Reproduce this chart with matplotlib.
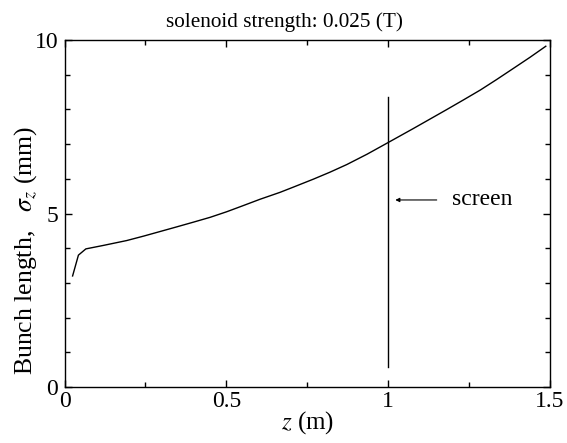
import matplotlib
matplotlib.use("Agg")
import matplotlib.pyplot as plt
from matplotlib.ticker import MultipleLocator

plt.rcParams["font.family"] = ["Liberation Serif", "DejaVu Serif"]
plt.rcParams["mathtext.fontset"] = "stix"

# bunch length along the beamline
z_m = [0.025, 0.043, 0.066, 0.12, 0.192, 0.245, 0.295, 0.345, 0.398, 0.45,
       0.501, 0.55, 0.604, 0.666, 0.707, 0.769, 0.82, 0.872, 0.935, 0.997,
       1.078, 1.129, 1.18, 1.232, 1.285, 1.335, 1.385, 1.438, 1.487]
sigma_mm = [3.20, 3.80, 3.98, 4.08, 4.22, 4.35, 4.48, 4.61, 4.75, 4.89,
            5.05, 5.22, 5.41, 5.61, 5.76, 5.99, 6.19, 6.41, 6.71, 7.03,
            7.45, 7.72, 7.99, 8.27, 8.56, 8.86, 9.17, 9.50, 9.82]

screen_z = 1.0
screen_span = [0.59, 8.36]
arrow_tail = (1.150, 5.39)
arrow_head = (1.022, 5.39)
label_z = 1.196

fig = plt.figure(figsize=(5.67, 4.43), dpi=100)
ax = fig.add_axes([64.5 / 567, 1 - 387 / 443, 485.5 / 567, 347 / 443])

ax.plot(z_m, sigma_mm, color="black", lw=1.0)
ax.plot([screen_z, screen_z], screen_span, color="black", lw=1.0)
ax.annotate("", xy=arrow_head, xytext=arrow_tail,
            arrowprops=dict(arrowstyle="-|>", color="black", lw=0.8,
                            mutation_scale=6, shrinkA=0, shrinkB=0))
ax.text(label_z, arrow_tail[1], "screen", fontsize=17, va="center", ha="left")

ax.set_xlim(0, 1.5)
ax.set_ylim(0, 10)
ax.set_xticks([0, 0.5, 1, 1.5])
ax.set_xticklabels(["0", "0.5", "1", "1.5"])
ax.set_yticks([0, 5, 10])
ax.xaxis.set_minor_locator(MultipleLocator(0.25))
ax.yaxis.set_minor_locator(MultipleLocator(1))
ax.tick_params(which="both", direction="in", top=True, right=True,
               labelsize=17, width=1.0)
ax.tick_params(which="major", length=5)
ax.tick_params(which="minor", length=3.5)
ax.tick_params(axis="x", which="major", pad=3)
ax.tick_params(axis="y", which="major", pad=4.5)
for s in ax.spines.values():
    s.set_linewidth(1.0)

ax.set_xlabel(r"$z$ (m)", fontsize=18, labelpad=-2)
ax.set_ylabel(r"Bunch length,   $\sigma_z$ (mm)", fontsize=18.5)
ax.yaxis.set_label_coords(-0.052, 0.395)
fig.text(0.501, 1 - 27 / 443, "solenoid strength: 0.025 (T)",
         fontsize=15.3, ha="center", va="baseline")

fig.savefig("out.png", dpi=100)
